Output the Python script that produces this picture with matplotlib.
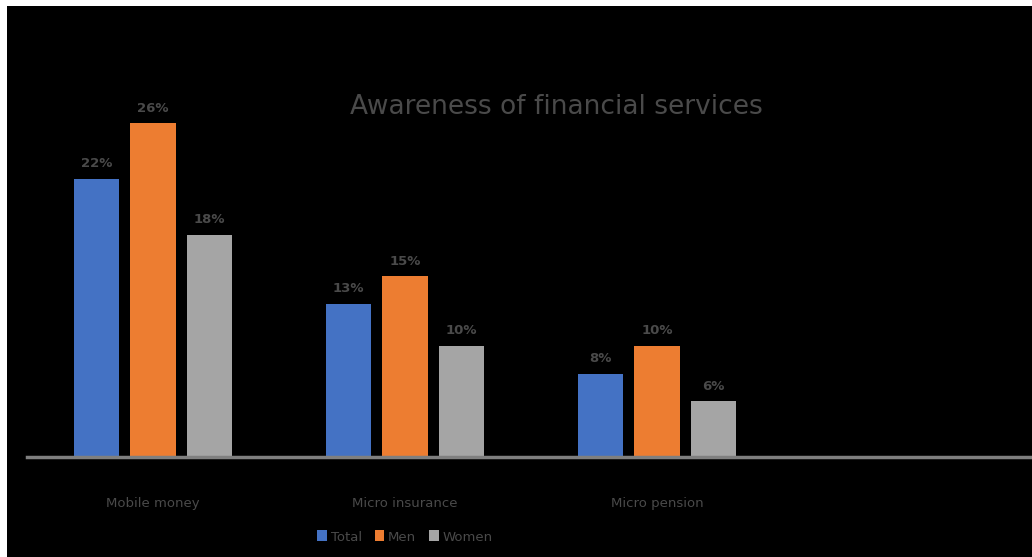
"""Awareness of financial services - grouped bar chart."""
import numpy as np
import matplotlib
matplotlib.use("Agg")
import matplotlib.pyplot as plt
from matplotlib.patches import Rectangle

categories = ["Mobile money", "Micro insurance", "Micro pension", ""]
total = [22, 13, 8, np.nan]
men = [26, 15, 10, np.nan]
women = [18, 10, 6, np.nan]
series_names = ["Total", "Men", "Women"]
colors = ["#4472C4", "#ED7D31", "#A5A5A5"]
TEXT = "#4a4a4a"

W, H = 1032, 557
fig = plt.figure(figsize=(W / 100, H / 100), dpi=100, facecolor="white")
fig.add_artist(Rectangle((7 / W, 0), 1, 1 - 6 / H, transform=fig.transFigure,
                         facecolor="black", edgecolor="none", zorder=0))

ax = fig.add_axes([27 / W, 100 / H, 1008 / W, 417 / H])
ax.set_facecolor("black")

x = np.arange(len(categories))
width = 0.18
step = 0.224
for i, (vals, name, c) in enumerate(zip([total, men, women], series_names, colors)):
    pos = x + (i - 1) * step
    ax.bar(pos, vals, width, color=c, label=name, edgecolor="none", zorder=2)
    for xp, v in zip(pos, vals):
        if not np.isnan(v):
            ax.annotate(f"{v:.0f}%", (xp, v), xytext=(0, 11),
                        textcoords="offset points", ha="center", va="center",
                        fontsize=9.5, color=TEXT, fontweight="bold")

ax.set_xlim(-0.5, len(categories) - 0.5)
ax.set_ylim(2, 32)
ax.set_yticks([])
ax.set_xticks(x)
ax.set_xticklabels(categories, fontsize=9.5, color=TEXT)
ax.tick_params(axis="x", length=0, pad=29)
for s in ["top", "right", "left"]:
    ax.spines[s].set_visible(False)
ax.spines["bottom"].set_color("#7f7f7f")
ax.spines["bottom"].set_linewidth(2.5)

fig.text(556 / W, 1 - 107 / H, "Awareness of financial services", ha="center",
         va="center", fontsize=19, color=TEXT)

leg = ax.legend(loc="center", bbox_to_anchor=(405 / W, 1 - 537 / H),
                bbox_transform=fig.transFigure, ncol=3, frameon=False,
                fontsize=9.5, handlelength=0.7, handleheight=0.9,
                handletextpad=0.3, columnspacing=1.0)
for t in leg.get_texts():
    t.set_color(TEXT)

plt.savefig("out.png", dpi=100, facecolor="white")
